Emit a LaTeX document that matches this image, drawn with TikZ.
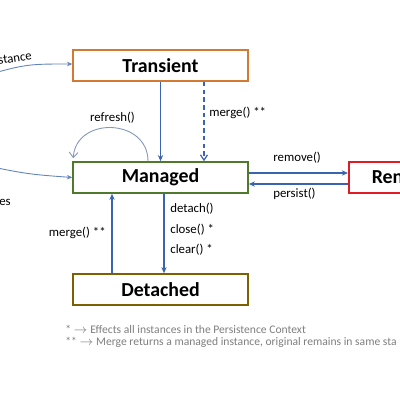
\documentclass[tikz,border=0pt]{standalone}
\usepackage{fontspec}
\setmainfont{Carlito}
\usetikzlibrary{arrows.meta}
\definecolor{arrowblue}{HTML}{3A64AE}
\definecolor{loopblue}{HTML}{8497B8}
\definecolor{transorange}{HTML}{D27A32}
\definecolor{mangreen}{HTML}{4F7A2B}
\definecolor{detolive}{HTML}{7F6000}
\definecolor{remred}{HTML}{E01B22}
\definecolor{notegray}{HTML}{7F7F7F}

\begin{document}
\begin{tikzpicture}[x=0.02cm,y=-0.02cm,
    statebox/.style={draw,line width=0.9pt,minimum width=3.5cm,minimum height=0.62cm,
      inner sep=0pt,font=\fontsize{11.3}{13}\selectfont\bfseries},
    lbl/.style={inner sep=0pt,font=\fontsize{7.3}{9}\selectfont},
    note/.style={inner sep=0pt,anchor=west,text=notegray,font=\fontsize{6.6}{8}\selectfont},
    trans/.style={arrowblue,line width=0.7pt,-{Stealth[length=3.5pt,width=3pt]}},
    dtrans/.style={arrowblue,line width=0.7pt,dash pattern=on 2.6pt off 1.8pt,
      -{Straight Barb[length=3pt,width=4pt]}},
    thin trans/.style={arrowblue!80,line width=0.5pt,-{Stealth[length=3pt,width=2.6pt]}},
    loop trans/.style={loopblue,line width=0.5pt,-{Straight Barb[length=3pt,width=5pt]}}]

  \fill[white] (0,0) rectangle (400,400);
  \useasboundingbox (0,0) rectangle (400,400);
  \clip (0,0) rectangle (400,400);

  \node[statebox,draw=transorange] (transient) at (160.5,65.5) {Transient};
  \node[statebox,draw=mangreen] (managed) at (160.5,177.5) {Managed};
  \node[statebox,draw=detolive] (detached) at (160.5,289.5) {Detached};
  \node[statebox,draw=remred,anchor=west,minimum width=0pt,text width=3cm,
    align=left,inner xsep=0.46cm] (removed) at (348,177.5) {Ren};

  \coordinate (newsrc) at (-30,80);
  \coordinate (findsrc) at (-40,160);

  \draw[trans] (transient.south) -- (managed.north);
  \draw[dtrans] ([xshift=0.87cm]transient.south) -- ([xshift=0.87cm]managed.north);
  \draw[trans] ([xshift=0.07cm]managed.south) -- ([xshift=0.07cm]detached.north);
  \draw[trans] ([xshift=-0.97cm]detached.north) -- ([xshift=-0.97cm]managed.north |- managed.south);
  \draw[trans] ([yshift=0.09cm]managed.east) -- ([yshift=0.09cm]removed.west);
  \draw[trans] ([yshift=-0.13cm]removed.west) -- ([yshift=-0.13cm]managed.east);
  \draw[loop trans] ([xshift=-0.25cm]managed.north) .. controls (148,118) and (76,116)
    .. ([xshift=0.02cm,yshift=0.06cm]managed.north west);
  \draw[thin trans] (newsrc) .. controls (25,64) .. ([yshift=0.03cm]transient.west);
  \draw[thin trans] (findsrc) .. controls (25,174) .. (managed.west);

  \node[lbl,rotate=9] (newlbl) at (15,58) {stance};
  \node[lbl,anchor=west] (findlbl) at (-1,202) {es};
  \node[lbl] (refreshlbl) at (112.5,118) {refresh()};
  \node[lbl,anchor=west] (mergetlbl) at (209,113) {merge() **};
  \node[lbl,anchor=west] (removelbl) at (273,158) {remove()};
  \node[lbl,anchor=west] (persistlbl) at (273,194) {persist()};
  \node[lbl,anchor=west] (detachlbl) at (170,209) {detach()};
  \node[lbl,anchor=west] (closelbl) at (170,229.5) {close() *};
  \node[lbl,anchor=west] (clearlbl) at (170,250) {clear() *};
  \node[lbl,anchor=east] (mergedlbl) at (106,233) {merge() **};

  \node[note] (noteone) at (65,329) {* $\rightarrow$ Effects all instances in the Persistence Context};
  \node[note] (notetwo) at (65,342) {** $\rightarrow$ Merge returns a managed instance, original remains in same sta};
\end{tikzpicture}
\end{document}
